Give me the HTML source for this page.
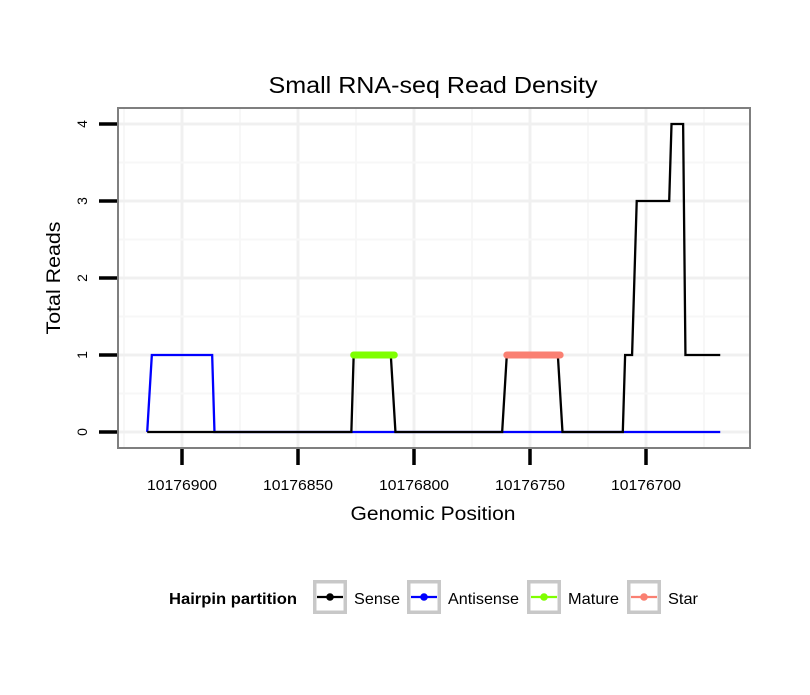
<!DOCTYPE html>
<html><head><meta charset="utf-8"><style>
body{margin:0;background:#fff;}
svg text{font-family:"Liberation Sans",sans-serif;}
</style></head><body>
<svg id="chart" width="810" height="690" xmlns="http://www.w3.org/2000/svg">
<rect width="810" height="690" fill="#fff"/>
<text x="433" y="93" font-size="23" text-anchor="middle" textLength="329" lengthAdjust="spacingAndGlyphs">Small RNA-seq Read Density</text>
<g id="grid"></g>
<g id="series"></g>
<rect x="118" y="108" width="632" height="340" fill="none" stroke="#7f7f7f" stroke-width="2"/>
<g id="axes"></g>
<text x="433" y="520" font-size="19" text-anchor="middle" textLength="165" lengthAdjust="spacingAndGlyphs">Genomic Position</text>
<text transform="translate(60,278) rotate(-90)" font-size="19" text-anchor="middle" textLength="113" lengthAdjust="spacingAndGlyphs">Total Reads</text>
<g>
<text x="169" y="604" font-size="16" font-weight="bold" textLength="128" lengthAdjust="spacingAndGlyphs">Hairpin partition</text>
<g id="legend"></g>
</g>
</svg>
<script>
const xTicks=[10176900,10176850,10176800,10176750,10176700];
const yTicks=[0,1,2,3,4];
const sensePos=[10176915,10176827,10176826,10176810,10176808,10176762,10176760,10176738,10176736,10176710,10176709,10176706,10176704,10176690,10176689,10176684,10176683,10176668];
const senseVal=[0,0,1,1,0,0,1,1,0,0,1,1,3,3,4,4,1,1];
const antiPos=[10176915,10176913,10176887,10176886,10176668];
const antiVal=[0,1,1,0,0];
const maturePos=[10176826,10176808.5];
const matureVal=[1,1];
const starPos=[10176760,10176737];
const starVal=[1,1];
const legendNames=["Sense","Antisense","Mature","Star"];
const legendColors=["#000000","#0000ff","#7fff00","#fa8072"];

const NS="http://www.w3.org/2000/svg";
const X=p=>182+(10176900-p)*2.32;
const Y=v=>432-v*77;
function mk(tag,attrs,parent){const e=document.createElementNS(NS,tag);for(const k in attrs)e.setAttribute(k,attrs[k]);parent.appendChild(e);return e;}
const grid=document.getElementById('grid'),axes=document.getElementById('axes'),series=document.getElementById('series'),legend=document.getElementById('legend');
for(let i=0;i<xTicks.length;i++){
  const g=mk('line',{x1:X(xTicks[i]),x2:X(xTicks[i]),y1:109,y2:447,stroke:'#f0f0f0','stroke-width':3},grid);
  
}
for(let i=0;i<=xTicks.length;i++){
  const p=xTicks[0]+25-50*i;const x=X(p);if(x<119||x>749)continue;
  const g=mk('line',{x1:x,x2:x,y1:109,y2:447,stroke:'#f7f7f7','stroke-width':2},grid);
  
}
for(let i=0;i<yTicks.length;i++){
  const g=mk('line',{x1:119,x2:749,y1:Y(yTicks[i]),y2:Y(yTicks[i]),stroke:'#f0f0f0','stroke-width':3},grid);
  
  const ym=Y(yTicks[i]+0.5);
  if(ym>109){
    const m=mk('line',{x1:119,x2:749,y1:ym,y2:ym,stroke:'#f7f7f7','stroke-width':2},grid);
    
  }
}
function line(pos,val,color,w,name,cap){
  const pts=pos.map((p,i)=>X(p)+','+Y(val[i])).join(' ');
  const e=mk('polyline',{points:pts,fill:'none',stroke:color,'stroke-width':w,'stroke-linecap':cap||'butt','stroke-linejoin':'miter'},series);
  
}
line(antiPos,antiVal,'#0000ff',2.3,'antisense-line');
line(sensePos,senseVal,'#000000',2.3,'sense-line');
line(maturePos,matureVal,'#7fff00',7,'mature-line','round');
line(starPos,starVal,'#fa8072',7,'star-line','round');
xTicks.forEach(t=>{
  const l=mk('line',{x1:X(t),x2:X(t),y1:449,y2:465,stroke:'#000','stroke-width':3.5},axes);
  
  const tx=mk('text',{x:X(t),y:490,'font-size':15,'text-anchor':'middle',textLength:70,lengthAdjust:'spacingAndGlyphs'},axes);tx.textContent=t;
  
});
yTicks.forEach(t=>{
  const l=mk('line',{x1:99,x2:117,y1:Y(t),y2:Y(t),stroke:'#000','stroke-width':3.5},axes);
  
  const tx=mk('text',{transform:`translate(87,${Y(t)}) rotate(-90)`,'font-size':14,'text-anchor':'middle'},axes);tx.textContent=t;
  
});
const lx=[313,407,527,627];
const lw=[46,71,51,30];
legendNames.forEach((n,i)=>{
  const x=lx[i];
  const b=mk('rect',{x:x+1.75,y:581.75,width:30.5,height:30.5,fill:'#fff',stroke:'#c8c8c8','stroke-width':3.5},legend);
  
  const l=mk('line',{x1:x+4,x2:x+30,y1:597,y2:597,stroke:legendColors[i],'stroke-width':2.3},legend);
  
  const c=mk('circle',{cx:x+17,cy:597,r:3.8,fill:legendColors[i]},legend);
  
  const t=mk('text',{x:x+41,y:604,'font-size':16,textLength:lw[i],lengthAdjust:'spacingAndGlyphs'},legend);t.textContent=n;
  
});
</script>
</body></html>
